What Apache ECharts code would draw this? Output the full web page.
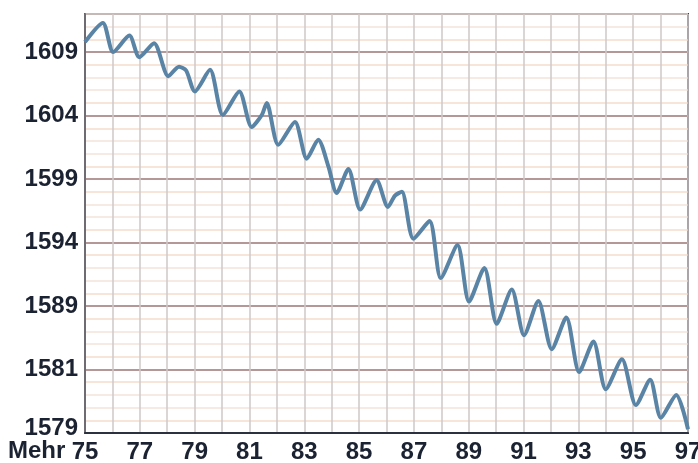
<!DOCTYPE html>
<html>
<head>
<meta charset="utf-8">
<script src="https://cdn.jsdelivr.net/npm/echarts@6/dist/echarts.min.js"></script>
<style>
  html, body { margin: 0; padding: 0; background: #fff; }
  #chart { width: 698px; height: 463px; }
</style>
</head>
<body>
<div id="chart"></div>
<script>
// key points (year, value)
var years = [75.0, 75.65, 76.03, 76.62, 76.98, 77.52, 78.04, 78.43, 78.69, 79.01, 79.56, 80.03, 80.63,
    81.08, 81.45, 81.63, 82.05, 82.66, 83.09, 83.51, 83.88, 84.18, 84.61, 85.04, 85.64, 86.05, 86.31,
    86.56, 86.98, 87.57, 87.98, 88.59, 89.01, 89.57, 90.02, 90.57, 91.02, 91.54, 92.03, 92.56, 93.03,
    93.55, 94.0, 94.59, 95.1, 95.62, 96.01, 96.57, 97.0];
var values = [1609.8, 1611.3, 1609.0, 1610.3, 1608.6, 1609.7, 1607.1, 1607.85, 1607.55, 1605.9, 1607.6,
    1604.05, 1605.9, 1603.1, 1604.05, 1605.0, 1601.7, 1603.5, 1600.6, 1602.1, 1600.0, 1597.9, 1599.8,
    1596.6, 1598.9, 1596.8, 1597.7, 1598.0, 1594.3, 1595.7, 1591.2, 1593.8, 1589.35, 1592.0, 1587.6,
    1590.3, 1586.7, 1589.4, 1585.6, 1588.1, 1583.8, 1586.2, 1582.45, 1584.8, 1581.2, 1583.2, 1580.2,
    1582.0, 1579.3];

// y ticks (grid positions) and the labels printed at them
var yTicks = [1579, 1584, 1589, 1594, 1599, 1604, 1609];
var yTickLabels = ['1579', '1581', '1589', '1594', '1599', '1604', '1609'];
var xTickLabels = ['75', '77', '79', '81', '83', '85', '87', '89', '91', '93', '95', '97'];

var chart = echarts.init(document.getElementById('chart'));

var seriesData = [];
for (var i = 0; i < years.length; i++) {
    seriesData.push([years[i], values[i]]);
}

var labelFont = {
    fontFamily: 'Liberation Sans, Arial, sans-serif',
    fontWeight: 'bold',
    fontSize: 24,
    color: '#1b2231'
};

option = {
    animation: false,
    backgroundColor: '#fff',
    grid: {
        left: 85,
        right: 10,
        top: 14,
        bottom: 30,
        outerBoundsMode: 'none',
        containLabel: false,
        show: true,
        borderColor: '#3a3e4a',
        borderWidth: 2
    },
    graphic: [
        {
            type: 'text',
            left: 8,
            top: 439,
            style: {
                text: 'Mehr',
                font: 'bold 24px "Liberation Sans", Arial, sans-serif',
                fill: '#1b2231'
            }
        }
    ],
    xAxis: {
        type: 'value',
        min: 75,
        max: 97,
        interval: 1,
        axisLine: { lineStyle: { color: '#2c3140', width: 2 } },
        axisTick: { show: false },
        axisLabel: Object.assign({
            margin: 7,
            formatter: function (v) {
                var s = String(Math.round(v));
                return xTickLabels.indexOf(s) >= 0 ? s : '';
            }
        }, labelFont),
        splitLine: { show: true, lineStyle: { color: '#cfc8c8', width: 1.5 } }
    },
    yAxis: {
        type: 'value',
        min: 1579,
        max: 1612,
        interval: 1,
        axisLine: { show: true, lineStyle: { color: '#6e6c72', width: 2 } },
        axisTick: { show: false },
        axisLabel: Object.assign({
            margin: 7,
            formatter: function (v) {
                var k = yTicks.indexOf(Math.round(v));
                if (k < 0) return '';
                if (k === 0) return '{b|' + yTickLabels[k] + '}';
                return yTickLabels[k];
            },
            rich: {
                b: Object.assign({ padding: [0, 0, 10, 0] }, labelFont)
            }
        }, labelFont),
        splitLine: {
            show: true,
            lineStyle: {
                color: ['#9c7474', '#f5dccc', '#f3e3d8', '#f3e3d8', '#f5dccc'],
                width: 1.5
            }
        }
    },
    series: [
        {
            type: 'line',
            data: seriesData,
            smooth: 0.25,
            showSymbol: false,
            lineStyle: { color: '#5a84a5', width: 4 }
        }
    ]
};
chart.setOption(option);
</script>
</body>
</html>
